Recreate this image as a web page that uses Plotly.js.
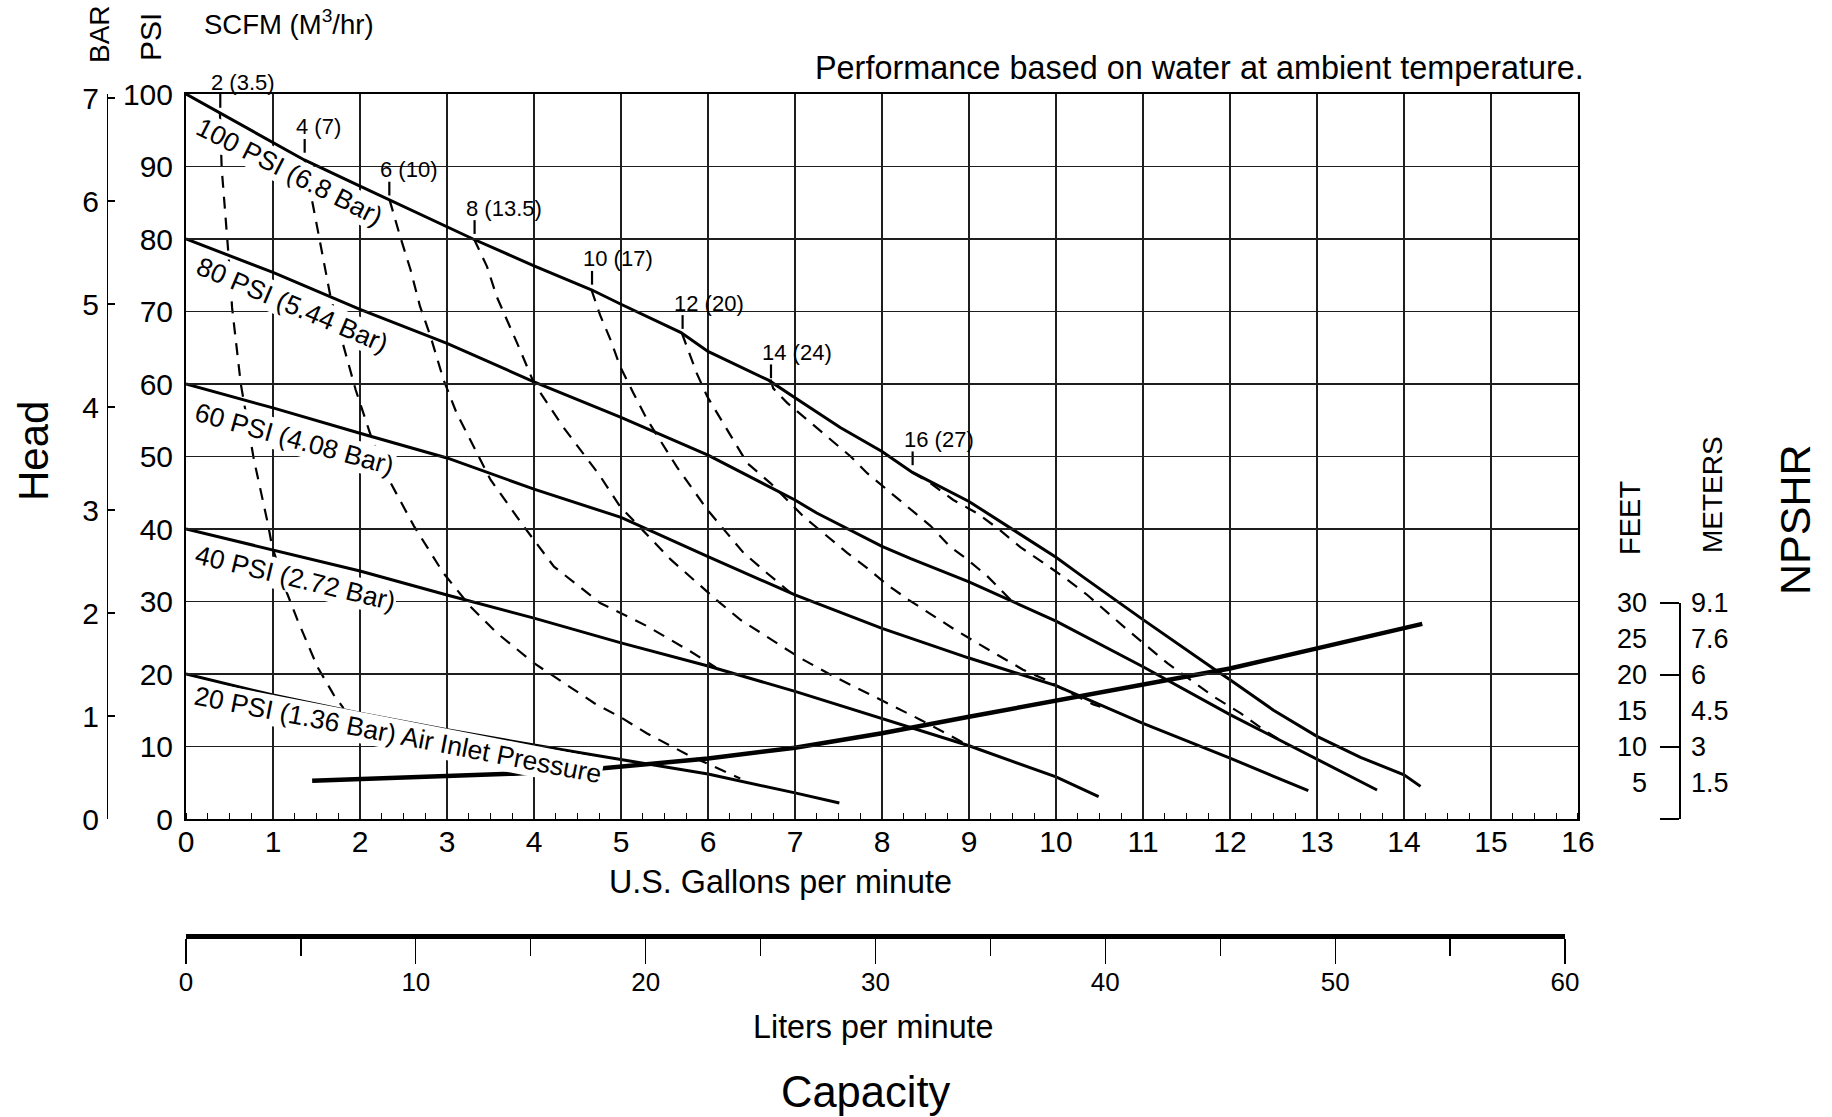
<!DOCTYPE html>
<html>
<head>
<meta charset="utf-8">
<script src="https://cdn.plot.ly/plotly-3.0.1.min.js"></script>
<style>html,body{margin:0;padding:0;background:#fff}#chart{width:1832px;height:1117px}</style>
</head>
<body>
<div id="chart"></div>
<script>
// ---------------- DATA ----------------
const gpmTicks = [0,1,2,3,4,5,6,7,8,9,10,11,12,13,14,15,16];
const psiTicks = [0,10,20,30,40,50,60,70,80,90,100];
const barTicks = [0,1,2,3,4,5,6,7];
const litersTicks = [0,10,20,30,40,50,60];
const npshrFeetTicks = [5,10,15,20,25,30];
const npshrMeterText = ['1.5','3','4.5','6','7.6','9.1'];
const npshrBracketTicks = [0,10,20,30];

// Air inlet pressure curves (x = US gpm, y = head psi)
const p100X = [0,0.39,1.0,1.36,2.0,2.34,3.0,3.30,4.0,4.66,5.0,5.69,6.0,6.70,7.0,7.52,8.0,8.35,9.0,9.51,10.0,10.31,11.0,11.85,12.0,12.5,13.0,13.5,14.0,14.19];
const p100Y = [100,97.4,93.3,90.9,87.3,85.4,81.7,80.0,76.3,73.0,71.0,67.1,64.5,60.5,58.1,54.0,50.7,47.8,43.8,39.9,36.1,33.4,27.5,20.4,19.2,15.0,11.4,8.5,6.1,4.5];
const p80X = [0,1,2,3,4,5,6,7,7.25,8,8.33,9,10,11,12,13,13.69];
const p80Y = [80,75.4,70.3,65.6,60.3,55.4,50.2,44.0,42.2,37.6,35.9,32.7,27.3,21.0,14.4,8.2,4.0];
const p60X = [0,1,2,3,4,5,6,7,8,9,10,11,12,12.9];
const p60Y = [60,56.7,53.2,49.8,45.5,41.6,36.2,30.9,26.3,22.2,18.4,13.2,8.4,3.9];
const p40X = [0,1,2,3,4,5,6,7,8,9,10,10.49];
const p40Y = [40,37.1,34.2,30.9,27.7,24.3,21.1,17.6,13.8,10.1,5.8,3.1];
const p20X = [0,1,2,3,4,5,6,7,7.51];
const p20Y = [20,17.1,14.6,12.3,10.2,8.2,6.2,3.6,2.2];

// NPSHR curve (x = US gpm, y = feet)
const npshrX = [1.45,3.0,3.77,4.76,6,7,8,9,10,11,12,13,14,14.21];
const npshrFt = [5.3,5.9,6.3,7.0,8.4,9.9,11.9,14.2,16.4,18.7,20.9,23.7,26.6,27.1];

// Air consumption lines, SCFM (M3/hr)
const scfmLabels = ['2 (3.5)','4 (7)','6 (10)','8 (13.5)','10 (17)','12 (20)','14 (24)','16 (27)'];
const scfmTickGpm = [0.394,1.364,2.337,3.317,4.667,5.708,6.724,8.352];
const scfmTickPsi = [98.1,91.9,86.0,80.7,73.7,67.6,60.8,48.8];
const s2X = [0.39,0.41,0.49,0.53,0.63,0.78,0.94,0.99,1.16,1.28,1.51,1.70,1.81];
const s2Y = [97.4,89.8,77.6,70.5,60.0,49.6,40.8,37.6,31.2,27.5,21.0,17.1,15.3];
const s4X = [1.36,1.47,1.66,1.80,1.95,2.14,2.31,2.62,2.96,3.27,3.57,4.0,4.69,5.0,5.30,5.76,6.37];
const s4Y = [90.9,84.0,72.1,65.7,59.2,52.3,47.3,40.4,33.9,29.3,25.7,21.5,16.0,14.0,11.8,8.9,5.6];
const s6X = [2.34,2.46,2.58,2.69,2.81,2.96,3.11,3.27,3.50,3.88,4.23,4.76,5.30,5.80,6.09];
const s6Y = [85.4,80.4,75.8,70.7,66.6,60.6,56.0,52.3,46.8,40.4,34.8,29.8,26.6,23.1,20.9];
const s8X = [3.31,3.46,3.57,3.69,3.84,4.0,4.15,4.34,4.76,4.99,5.57,5.87,6.10,6.37,6.79,7.06,7.44,7.90,8.44,8.97];
const s8Y = [80.0,76.2,72.1,68.9,64.7,60.1,57.4,54.0,47.3,43.1,35.8,32.6,30.2,27.5,24.3,22.2,19.7,16.9,13.7,10.3];
const s10X = [4.66,4.76,4.88,4.99,5.14,5.30,5.64,5.99,6.22,6.41,6.68,6.95];
const s10Y = [73.0,69.5,66.1,62.4,58.8,55.1,48.6,42.7,39.4,36.7,33.9,31.2];
const s12X = [5.70,5.87,5.99,6.29,6.45,6.72,6.91,7.10,7.33,7.60,7.83,8.06,8.31,8.57,8.84,9.09,9.36,9.62,9.90,10.13,10.43,10.51];
const s12Y = [67.0,61.5,58.3,52.3,49.1,46.3,44.0,41.7,39.4,36.7,34.6,32.3,30.2,28.2,26.1,24.3,22.4,20.6,19.1,17.6,15.8,15.5];
const s14X = [6.72,6.75,6.91,7.14,7.37,7.64,7.83,8.06,8.33,8.56,8.78,8.98,9.21,9.48];
const s14Y = [60.6,59.4,57.4,55.1,52.8,50.0,47.7,45.4,42.7,40.4,37.6,35.8,33.5,30.2];
const s16X = [8.35,8.56,8.82,9.09,9.34,9.59,9.86,10.13,10.36,10.82,11.28,11.81,12.12,12.39,12.65];
const s16Y = [47.8,46.3,44.0,42.2,40.0,37.5,35.3,33.0,30.9,26.1,21.5,16.9,14.6,12.3,10.3];

const pressureLabels = ['100 PSI (6.8 Bar)','80 PSI (5.44 Bar)','60 PSI (4.08 Bar)','40 PSI (2.72 Bar)','20 PSI (1.36 Bar) Air Inlet Pressure'];

// ---------------- LAYOUT / STYLE ----------------
const FONT = 'Liberation Sans, Arial, Helvetica, sans-serif';
const W = 1832, H = 1117;
const M = {l: 40, r: 40, t: 94, b: 60};
const PW = W - M.l - M.r, PH = H - M.t - M.b;
const px = v => (v - M.l) / PW;          // page pixel -> paper x
const py = v => (H - M.b - v) / PH;      // page pixel -> paper y
const plotL = 186, plotR = 1578, plotT = 94, plotB = 819;
const GAL_TO_L = 3.78541;
const xDom = [px(plotL), px(plotR)];
const litersEnd = xDom[0] + (xDom[1] - xDom[0]) * (litersTicks[litersTicks.length-1] / GAL_TO_L) / gpmTicks[gpmTicks.length-1];
const bracketX = px(1679);
const feetDom = [py(plotB), py(603)];

const labelPos = {x: [1.195,1.224,1.244,1.253,2.44], y: [89.2,70.9,52.4,33.2,11.6], angle: [27,23,15.5,13.5,11]};
const scfmTickLen = 1.9;   // in psi units

const solid = {color: 'black', width: 3};
const dashed = {color: 'black', width: 2.2, dash: '12px,9px'};

const traces = [];
[[p100X,p100Y],[p80X,p80Y],[p60X,p60Y],[p40X,p40Y],[p20X,p20Y]].forEach(([x,y]) => {
  traces.push({type:'scatter', mode:'lines', x, y, line: solid, hoverinfo:'skip'});
});
[[s2X,s2Y],[s4X,s4Y],[s6X,s6Y],[s8X,s8Y],[s10X,s10Y],[s12X,s12Y],[s14X,s14Y],[s16X,s16Y]].forEach(([x,y]) => {
  traces.push({type:'scatter', mode:'lines', x, y, line: dashed, hoverinfo:'skip'});
});
// SCFM tick marks
const tx = [], ty = [];
scfmTickGpm.forEach((g, i) => { tx.push(g, g, null); ty.push(scfmTickPsi[i], scfmTickPsi[i] + scfmTickLen, null); });
traces.push({type:'scatter', mode:'lines', x: tx, y: ty, line: {color:'black', width: 2.2}, hoverinfo:'skip', cliponaxis:false});
// NPSHR
traces.push({type:'scatter', mode:'lines', x: npshrX, y: npshrFt, xaxis:'x', yaxis:'y3', line:{color:'black', width:4.5}, hoverinfo:'skip'});
// axis carriers (no visible marks)
traces.push({type:'scatter', mode:'none', x: litersTicks, y: litersTicks.map(() => null), xaxis:'x2', yaxis:'y', hoverinfo:'skip'});
traces.push({type:'scatter', mode:'none', x: barTicks.map(() => null), y: barTicks, xaxis:'x', yaxis:'y2', hoverinfo:'skip'});
traces.push({type:'scatter', mode:'none', x: npshrFeetTicks.map(() => null), y: npshrFeetTicks, xaxis:'x', yaxis:'y4', hoverinfo:'skip'});
traces.push({type:'scatter', mode:'none', x: npshrBracketTicks.map(() => null), y: npshrBracketTicks, xaxis:'x', yaxis:'y5', hoverinfo:'skip'});

const GRID = '#1e1e1e';
const annotations = [];
pressureLabels.forEach((t, i) => annotations.push({
  xref:'x', yref:'y', x: labelPos.x[i], y: labelPos.y[i], text: t, showarrow:false,
  textangle: labelPos.angle[i], bgcolor:'white', borderpad:0, font:{size:26.5, family: FONT, color:'black'}
}));
scfmLabels.forEach((t, i) => annotations.push({
  xref:'x', yref:'y', x: scfmTickGpm[i], y: scfmTickPsi[i] + scfmTickLen, text: t, showarrow:false,
  xanchor:'left', yanchor:'middle', xshift:-11, yshift:12, font:{size:22, family: FONT, color:'black'}
}));
const txt = (text, x, y, size, angle, extra) => Object.assign({
  xref:'paper', yref:'paper', x: px(x), y: py(y), text, showarrow:false, textangle: angle || 0,
  xanchor:'center', yanchor:'middle', font:{size, family: FONT, color:'black'}
}, extra || {});
annotations.push(
  txt('BAR', 100, 34, 28, -90),
  txt('PSI', 150, 37, 30, -90),
  txt('SCFM (M<sup>3</sup>/hr)', 289, 23, 27.5),
  txt('Performance based on water at ambient temperature.', 1199, 68, 32.4),
  txt('Head', 33, 451, 42, -90),
  txt('U.S. Gallons per minute', 780, 882, 32.3),
  txt('Liters per minute', 873, 1027, 32.3),
  txt('Capacity', 865, 1092, 43.5),
  txt('FEET', 1630, 518, 29, -90),
  txt('METERS', 1712, 495, 28, -90),
  txt('NPSHR', 1795, 520, 43, -90)
);

const layout = {
  width: W, height: H,
  margin: {l: M.l, r: M.r, t: M.t, b: M.b, pad: 0},
  paper_bgcolor: 'white', plot_bgcolor: 'rgba(0,0,0,0)',
  showlegend: false, hovermode: false,
  font: {family: FONT, color: 'black'},
  xaxis: {
    domain: xDom, range: [0, 16], anchor: 'y',
    tickmode: 'array', tickvals: gpmTicks, ticktext: gpmTicks.map(String),
    showgrid: true, gridcolor: GRID, gridwidth: 1.3,
    showline: true, linecolor: 'black', linewidth: 2, mirror: true,
    ticks: '', zeroline: false, tickfont: {size: 30, family: FONT, color: 'black'},
    ticklabelstandoff: -5,
    minor: {tickmode: 'linear', tick0: 0, dtick: 0.25, ticks: 'inside', ticklen: 6, tickwidth: 1.2, tickcolor: 'black', showgrid: false}
  },
  yaxis: {
    domain: [py(plotB), py(plotT)], range: [0, 100], anchor: 'x',
    tickmode: 'array', tickvals: psiTicks, ticktext: psiTicks.map(String),
    showgrid: true, gridcolor: GRID, gridwidth: 1.3,
    showline: true, linecolor: 'black', linewidth: 2, mirror: true,
    ticks: '', zeroline: false, tickfont: {size: 30, family: FONT, color: 'black'},
    ticklabelstandoff: 5
  },
  yaxis2: {
    overlaying: 'y', side: 'left', anchor: 'free', position: px(107),
    range: [0, 7.04], tickmode: 'array', tickvals: barTicks, ticktext: barTicks.map(String),
    showgrid: false, zeroline: false, showline: true, linecolor: 'black', linewidth: 1.3,
    ticks: 'inside', ticklen: 7, tickwidth: 1.3, tickcolor: 'black',
    tickfont: {size: 30, family: FONT, color: 'black'}, ticklabelstandoff: 2
  },
  xaxis2: {
    domain: [xDom[0], litersEnd], range: [0, 60], anchor: 'free', position: py(936), side: 'bottom',
    tickmode: 'array', tickvals: litersTicks, ticktext: litersTicks.map(String),
    showgrid: false, zeroline: false, showline: true, linecolor: 'black', linewidth: 4.5,
    ticks: 'outside', ticklen: 25, tickwidth: 1.3, tickcolor: 'black',
    minor: {tickmode: 'linear', tick0: 0, dtick: 5, ticks: 'outside', ticklen: 17, tickwidth: 1.3, tickcolor: 'black', showgrid: false},
    tickfont: {size: 26, family: FONT, color: 'black'}, ticklabelstandoff: -4
  },
  yaxis3: {
    domain: feetDom, range: [0, 30], anchor: 'free', position: bracketX, side: 'left',
    tickmode: 'array', tickvals: npshrFeetTicks, ticktext: npshrFeetTicks.map(String),
    showgrid: false, zeroline: false, showline: false, ticks: '',
    tickfont: {size: 27, family: FONT, color: 'black'}, ticklabelstandoff: 32
  },
  yaxis4: {
    overlaying: 'y3', side: 'right', anchor: 'free', position: bracketX, range: [0, 30],
    tickmode: 'array', tickvals: npshrFeetTicks, ticktext: npshrMeterText,
    showgrid: false, zeroline: false, showline: false, ticks: '',
    tickfont: {size: 27, family: FONT, color: 'black'}, ticklabelstandoff: 11
  },
  yaxis5: {
    overlaying: 'y3', side: 'left', anchor: 'free', position: bracketX, range: [0, 30],
    tickmode: 'array', tickvals: npshrBracketTicks, showticklabels: false,
    showgrid: false, zeroline: false, showline: true, linecolor: 'black', linewidth: 1.5,
    ticks: 'outside', ticklen: 19, tickwidth: 1.5, tickcolor: 'black'
  },
  annotations
};

Plotly.newPlot('chart', traces, layout, {displayModeBar: false, staticPlot: true});
</script>
</body>
</html>
